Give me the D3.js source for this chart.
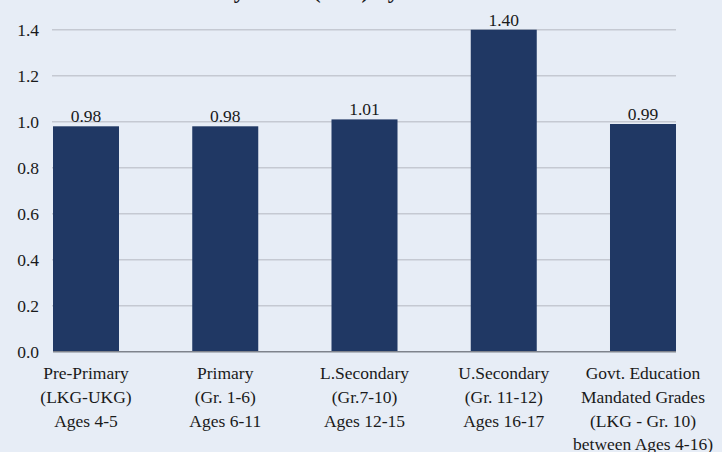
<!DOCTYPE html>
<html>
<head>
<meta charset="utf-8">
<script src="https://cdn.jsdelivr.net/npm/d3@7"></script>
<style>
  html, body { margin: 0; padding: 0; background: #e7edf6; }
  svg { display: block; }
</style>
</head>
<body>
<svg id="chart" width="722" height="452"></svg>
<script>
// Gender parity by level of schooling
const categories = [
  ["Pre-Primary", "(LKG-UKG)", "Ages 4-5"],
  ["Primary", "(Gr. 1-6)", "Ages 6-11"],
  ["L.Secondary", "(Gr.7-10)", "Ages 12-15"],
  ["U.Secondary", "(Gr. 11-12)", "Ages 16-17"],
  ["Govt. Education", "Mandated Grades", "(LKG - Gr. 10)", "between Ages 4-16)"]
];
const values = [0.98, 0.98, 1.01, 1.40, 0.99];
const yTicks = [0, 0.2, 0.4, 0.6, 0.8, 1.0, 1.2, 1.4];
const title = "Gender Parity Index (GPI) by Level of Education";

const FONT = '"Liberation Serif"';
const svg = d3.select("#chart");
const plotLeft = 53, plotRight = 676, plotTop = 29.7, plotBottom = 351.7;

const x = d3.scaleBand()
  .domain(d3.range(values.length))
  .range([plotLeft, plotRight])
  .paddingInner(0.526)
  .paddingOuter(0);
const y = d3.scaleLinear().domain([0, 1.4]).range([plotBottom, plotTop]);

// title, mostly above the visible area (as in the original crop)
const t = svg.append("text")
  .attr("y", -2)
  .style("font-family", FONT)
  .style("font-size", "23px")
  .style("font-weight", "bold")
  .attr("fill", "#1a1a1a")
  .text(title);
let px = 0;
try { px = t.node().getStartPositionOfChar(title.indexOf("(")).x; } catch (e) { px = 230; }
t.attr("x", 313 - px);

// gridlines
svg.append("g")
  .selectAll("line")
  .data(yTicks.slice(1))
  .enter().append("line")
  .attr("x1", plotLeft - 1).attr("x2", plotRight)
  .attr("y1", d => y(d)).attr("y2", d => y(d))
  .attr("stroke", "#c5c9d2")
  .attr("stroke-width", 1.5);

// y tick labels
svg.append("g")
  .selectAll("text")
  .data(yTicks)
  .enter().append("text")
  .attr("x", 39)
  .attr("y", d => y(d) + 6)
  .attr("text-anchor", "end")
  .style("font-family", FONT)
  .style("font-size", "17.5px")
  .attr("fill", "#1a1a1a")
  .text(d => d3.format(".1f")(d));

// bars
svg.append("g")
  .selectAll("rect")
  .data(values)
  .enter().append("rect")
  .attr("x", (d, i) => x(i))
  .attr("y", d => y(d))
  .attr("width", x.bandwidth())
  .attr("height", d => plotBottom - y(d))
  .attr("fill", "#203864");

// x axis line
svg.append("line")
  .attr("x1", plotLeft).attr("x2", plotRight)
  .attr("y1", plotBottom).attr("y2", plotBottom)
  .attr("stroke", "#7f838c")
  .attr("stroke-width", 1.5);

// value labels
svg.append("g")
  .selectAll("text")
  .data(values)
  .enter().append("text")
  .attr("x", (d, i) => x(i) + x.bandwidth() / 2)
  .attr("y", d => y(d) - 4)
  .attr("text-anchor", "middle")
  .style("font-family", FONT)
  .style("font-size", "17.5px")
  .attr("fill", "#1a1a1a")
  .text(d => d3.format(".2f")(d));

// category labels
const cat = svg.append("g")
  .selectAll("text")
  .data(categories)
  .enter().append("text")
  .attr("text-anchor", "middle")
  .style("font-family", FONT)
  .style("font-size", "17.5px")
  .attr("fill", "#1a1a1a");
cat.selectAll("tspan")
  .data((d, i) => d.map(s => ({ s, i })))
  .enter().append("tspan")
  .attr("x", d => x(d.i) + x.bandwidth() / 2)
  .attr("y", (d, j) => 379 + j * 23.8)
  .text(d => d.s);
</script>
</body>
</html>
